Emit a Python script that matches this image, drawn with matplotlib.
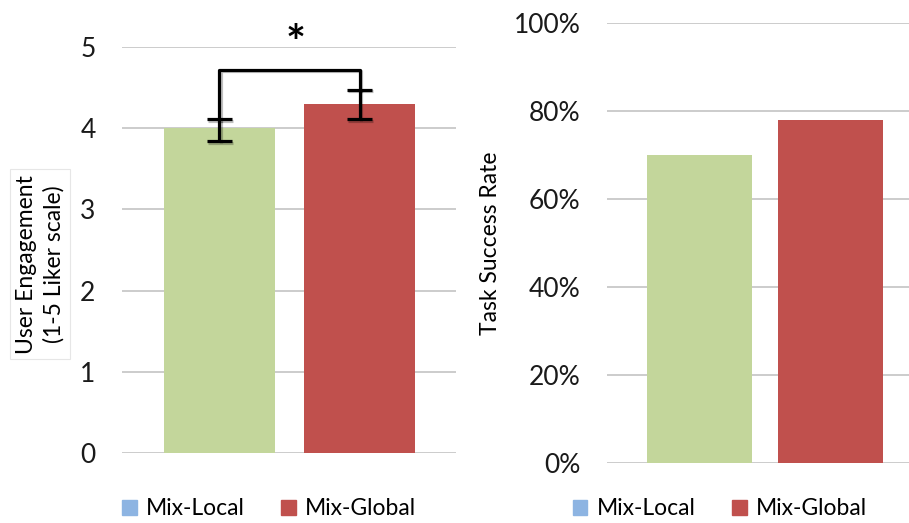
import matplotlib
matplotlib.use("Agg")
import matplotlib.pyplot as plt
import matplotlib.patheffects as pe
from matplotlib.patches import Patch
from matplotlib.ticker import PercentFormatter

plt.rcParams['font.family'] = ['Lato', 'DejaVu Sans']

# data
conditions = ["Mix-Local", "Mix-Global"]
engagement = [4.0, 4.3]
eng_err_low = [0.16, 0.19]
eng_err_high = [0.11, 0.17]
success_rate = [0.70, 0.78]

bar_colors = ["#C3D69B", "#C0504D"]
legend_colors = ["#8DB4E2", "#C0504D"]   # legend swatch differs from bar in the original
grid_col = "#BFBFBF"

fig = plt.figure(figsize=(9.09, 5.23), dpi=100)
ax1 = fig.add_axes([0.1342, 0.1338, 0.3675, 0.7763])
ax2 = fig.add_axes([0.6674, 0.1153, 0.3326, 0.8402])

x = range(len(conditions))

def style(ax):
    for s in ax.spines.values():
        s.set_visible(False)
    ax.tick_params(length=0, pad=19, labelsize=19, labelcolor="#1a1a1a")
    ax.set_xticks([])
    ax.yaxis.grid(True, color=grid_col, linewidth=1.1)
    ax.set_axisbelow(True)

# left: engagement
ax1.bar(x, engagement, width=0.79, color=bar_colors)
shadow = [pe.SimpleLineShadow(offset=(1, -1), alpha=0.25), pe.Normal()]
eb = ax1.errorbar(x, engagement, yerr=[eng_err_low, eng_err_high], fmt="none",
                  ecolor="black", elinewidth=2.3, capsize=9, capthick=2.3)
for art in eb.lines[1] + eb.lines[2]:
    art.set_path_effects(shadow)
ax1.plot([0, 0, 1, 1], [engagement[0] + eng_err_high[0], 4.72, 4.72,
                        engagement[1] + eng_err_high[1]],
         color="black", lw=2.3, path_effects=shadow)
ax1.text(0.54, 5.03, "*", ha="center", va="center", fontsize=34, fontweight="bold")
ax1.set_ylim(0, 5)
ax1.set_xlim(-0.696, 1.689)
ax1.set_yticks(range(6))
style(ax1)
fig.text(0.044, 0.495, "User Engagement\n(1-5 Liker scale)", rotation=90,
         ha="center", va="center", fontsize=16.5, linespacing=1.35,
         bbox=dict(boxstyle="square,pad=0.25", fc="white", ec="#E6E6E6", lw=0.8))

# right: task success
ax2.bar(x, success_rate, width=0.80, color=bar_colors)
ax2.set_ylim(0, 1)
ax2.set_xlim(-0.706, 1.598)
ax2.set_yticks([0, 0.2, 0.4, 0.6, 0.8, 1.0])
ax2.yaxis.set_major_formatter(PercentFormatter(1.0, decimals=0))
style(ax2)
ax2.set_ylabel("Task Success Rate", fontsize=16.5, labelpad=9)

handles = [Patch(color=c, label=l) for c, l in zip(legend_colors, conditions)]
for cx in (0.296, 0.792):
    fig.legend(handles=handles, loc="center", bbox_to_anchor=(cx, 0.027), ncol=2,
               frameon=False, fontsize=16.5, handlelength=0.65, handleheight=0.65,
               handletextpad=0.4, columnspacing=1.6, borderaxespad=0)

fig.savefig("out.png", dpi=100)
